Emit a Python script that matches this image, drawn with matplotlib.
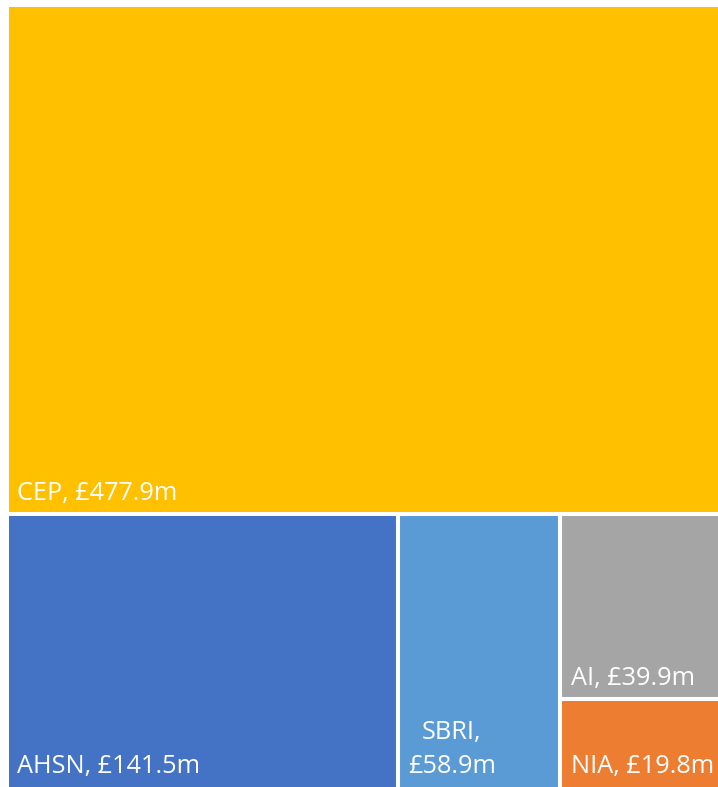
import matplotlib
matplotlib.use("Agg")
import matplotlib.pyplot as plt
from matplotlib.patches import Rectangle

labels = ["CEP", "AHSN", "SBRI", "AI", "NIA"]
values = [477.9, 141.5, 58.9, 39.9, 19.8]
colors = ["#FFC000", "#4472C4", "#5B9BD5", "#A5A5A5", "#ED7D31"]
texts = ["CEP, £477.9m", "AHSN, £141.5m", "SBRI,\n£58.9m", "AI, £39.9m", "NIA, £19.8m"]

W, H = 718, 787
fig = plt.figure(figsize=(W / 100, H / 100), dpi=100)
# plot region in pixels (slightly cropped on right/bottom like the reference)
left, right, top, bottom = 7, 725, 5, 791
ax = fig.add_axes([left / W, (H - bottom) / H, (right - left) / W, (bottom - top) / H])
ax.set_xlim(0, 1)
ax.set_ylim(0, 1)
ax.axis("off")

total = sum(values)
# layout computed from the values
rects = []
h0 = values[0] / total
rects.append((0, 1 - h0, 1, h0))
rest = total - values[0]
hb = 1 - h0
x = 0
w1 = values[1] / rest
rects.append((x, 0, w1, hb)); x += w1
w2 = values[2] / rest
rects.append((x, 0, w2, hb)); x += w2
w3 = (values[3] + values[4]) / rest
hA = hb * values[3] / (values[3] + values[4])
rects.append((x, hb - hA, w3, hA))
rects.append((x, 0, w3, hb - hA))

for (rx, ry, rw, rh), c in zip(rects, colors):
    ax.add_patch(Rectangle((rx, ry), rw, rh, facecolor=c, edgecolor="white",
                           linewidth=2.9, clip_on=False))

font = ["Open Sans", "DejaVu Sans"]
fs = 18.2
for i, ((rx, ry, rw, rh), t) in enumerate(zip(rects, texts)):
    if i == 2:
        ax.annotate(t, (rx, ry), xytext=(7.5, 8.5), textcoords="offset points",
                    ha="left", va="bottom", multialignment="center",
                    color="white", fontsize=fs, family=font, linespacing=1.5)
    elif i in (1, 4):
        ax.annotate(t, (rx, ry), xytext=(7.5, 8.5), textcoords="offset points",
                    ha="left", va="bottom", color="white", fontsize=fs, family=font)
    else:
        ax.annotate(t, (rx, ry), xytext=(7.5, 5.5), textcoords="offset points",
                    ha="left", va="bottom", color="white", fontsize=fs, family=font)

fig.savefig("out.png", dpi=100, facecolor="white")
